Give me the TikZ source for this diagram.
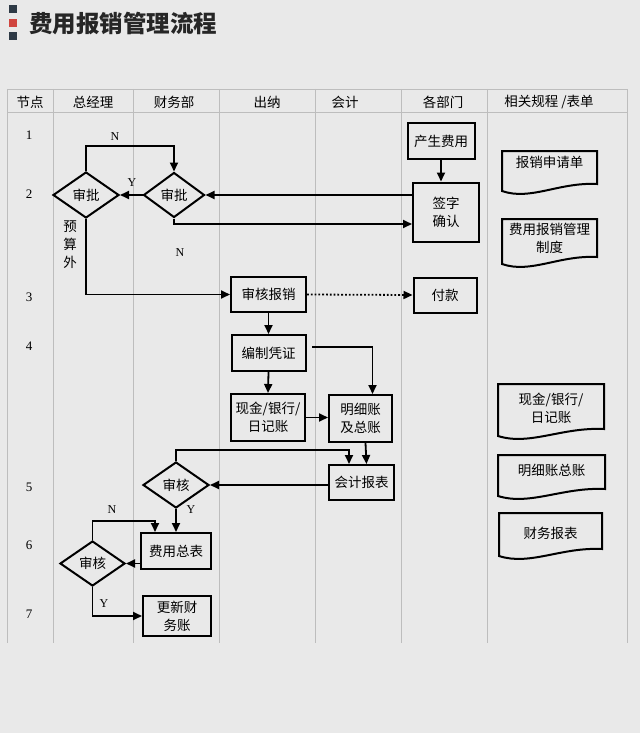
\documentclass[tikz,border=0pt]{standalone}
\usepackage{fontspec}
\setmainfont{Noto Sans CJK SC}
\newfontfamily\lat{Liberation Serif}
\usetikzlibrary{shapes.geometric,arrows.meta}
\definecolor{bg}{HTML}{E9E9E9}
\definecolor{gridc}{HTML}{BDBDBD}
\definecolor{sqdark}{HTML}{2E3A46}
\definecolor{sqred}{HTML}{D0453F}
\tikzset{
  every node/.style={font=\fontsize{13.5}{17}\selectfont, inner sep=0pt},
  procbox/.style={draw=black, line width=2pt, fill=bg, rectangle, align=center, font=\fontsize{13.5}{18}\selectfont},
  decision/.style={draw=black, line width=2pt, fill=bg, diamond, align=center, font=\fontsize{13.5}{18}\selectfont},
  arr/.style={line width=1.8pt, -{Triangle[length=9pt,width=8pt]}},
  dotarr/.style={line width=1.8pt, dotted, -{Triangle[length=9pt,width=8pt]}},
  gridline/.style={draw=gridc, line width=0.9pt},
  hdr/.style={font=\fontsize{13.5}{15}\selectfont},
  yn/.style={font=\lat\fontsize{12}{14}\selectfont},
  rownum/.style={font=\lat\fontsize{13}{15}\selectfont},
  docline/.style={draw=black, line width=2pt, fill=bg},
  doctext/.style={align=center, font=\fontsize{13.5}{18}\selectfont}
}
\newcommand\docpath[4]{%
  \path[docline] (#1,#3) -- (#2,#3) -- (#2,#4-7)
    .. controls ({#2-0.4*(#2-#1)},#4-9) and ({#1+0.3*(#2-#1)},#4+10) .. (#1,#4) -- cycle;}
\begin{document}
\begin{tikzpicture}[x=1pt,y=-1pt]
\path[fill=bg] (0,0) rectangle (640,733);
\useasboundingbox (0,0) rectangle (640,733);

% title
\fill[sqdark] (9,5) rectangle (17,13);
\fill[sqred] (9,19) rectangle (17,27);
\fill[sqdark] (9,32) rectangle (17,40);
\node[anchor=west, font=\fontsize{23.5}{25}\selectfont\bfseries, text=black!85] (title) at (29,24) {费用报销管理流程};

% grid
\foreach \x in {7,53,133,219,315,401,487,627} {\draw[gridline] (\x,89) -- (\x,643);}
\draw[gridline] (7,89) -- (627,89);
\draw[gridline] (7,112) -- (627,112);

% headers
\node[hdr] (h1) at (30,102) {节点};
\node[hdr] (h2) at (93,102) {总经理};
\node[hdr] (h3) at (174,102) {财务部};
\node[hdr] (h4) at (267,102) {出纳};
\node[hdr] (h5) at (345,102) {会计};
\node[hdr] (h6) at (443,102) {各部门};
\node[hdr] (h7) at (549,102) {相关规程 /表单};

% row numbers
\node[rownum] (r1) at (29,135) {1};
\node[rownum] (r2) at (29,194) {2};
\node[rownum] (r3) at (29,297) {3};
\node[rownum] (r4) at (29,346) {4};
\node[rownum] (r5) at (29,487) {5};
\node[rownum] (r6) at (29,545) {6};
\node[rownum] (r7) at (29,614) {7};

% process nodes
\node[procbox, minimum width=67pt, minimum height=36pt] (cs) at (441,141) {产生费用};
\node[procbox, minimum width=66pt, minimum height=59pt] (qz) at (446,212) {签字\\确认};
\node[decision, minimum width=61pt, minimum height=45pt] (sp1) at (174,195) {审批};
\node[decision, minimum width=66pt, minimum height=46pt] (sp2) at (86,195) {审批};
\node[procbox, minimum width=75pt, minimum height=35pt] (shbx) at (268.5,294.5) {审核报销};
\node[procbox, minimum width=63pt, minimum height=35pt] (fk) at (445,295) {付款};
\node[procbox, minimum width=74pt, minimum height=36pt] (bzpz) at (268.5,353) {编制凭证};
\node[procbox, minimum width=74pt, minimum height=47pt] (xj) at (268,417.5) {现金/银行/\\日记账};
\node[procbox, minimum width=63pt, minimum height=47pt] (mx) at (360.5,418.5) {明细账\\及总账};
\node[procbox, minimum width=65pt, minimum height=35pt] (kjbb) at (361.5,482.5) {会计报表};
\node[decision, minimum width=66pt, minimum height=46pt] (sh1) at (176,485) {审核};
\node[procbox, minimum width=70pt, minimum height=36pt] (fyzb) at (176,551) {费用总表};
\node[decision, minimum width=65pt, minimum height=45pt] (sh2) at (92.5,563.5) {审核};
\node[procbox, minimum width=68pt, minimum height=40pt] (gx) at (177,616) {更新财\\务账};

% connectors
\draw[arr] (cs.south) -- (cs.south |- qz.north);
\draw[arr] (qz.west |- sp1.east) -- (sp1.east);
\draw[arr] (sp1.south) |- ([yshift=-12pt]qz.west);
\draw[arr] (sp1.west) -- (sp2.east);
\draw[arr] (sp2.north) -- ++(0,-25) -| (sp1.north);
\draw[arr] (sp2.south) |- (shbx.west);
\draw[dotarr] (shbx.east) -- (fk.west);
\draw[arr] (shbx.south) -- (bzpz.north);
\coordinate (b1) at (312,347);
\draw[arr] (b1) -| ([xshift=12pt]mx.north);
\draw[arr] (bzpz.south) -- (xj.north);
\draw[arr] (xj.east) -- (xj.east -| mx.west);
\draw[arr] ([xshift=5pt]mx.south) -- ([xshift=5pt]kjbb.north);
\draw[arr] (kjbb.west |- sh1.east) -- (sh1.east);
\draw[arr] (sh1.north) -- ++(0,-11) -| ([xshift=-12.5pt]kjbb.north);
\draw[arr] (sh1.south) -- (sh1.south |- fyzb.north);
\draw[arr] (sh2.east -| fyzb.west) -- (sh2.east);
\draw[arr] (sh2.north) -- ++(0,-19) -| ([xshift=-21pt]fyzb.north);
\draw[arr] (sh2.south) |- (gx.west);

% connector labels
\node[yn] (lN1) at (115,137) {N};
\node[yn] (lY1) at (132,183) {Y};
\node[yn] (lN2) at (180,253) {N};
\node[align=center, font=\fontsize{13.5}{18}\selectfont] (ysw) at (70,245) {预\\算\\外};
\node[yn] (lY2) at (191,510) {Y};
\node[yn] (lN3) at (112,510) {N};
\node[yn] (lY3) at (104,604) {Y};

% documents
\docpath{502}{597}{151}{191}
\node[doctext] (d1) at (549.5,162) {报销申请单};
\docpath{502}{597}{219}{264}
\node[doctext] (d2) at (549.5,238) {费用报销管理\\制度};
\docpath{498}{604}{384}{436}
\node[doctext] (d3) at (551,408.5) {现金/银行/\\日记账};
\docpath{498}{605}{455}{496}
\node[doctext] (d4) at (551.5,470) {明细账总账};
\docpath{499}{602}{513}{556}
\node[doctext] (d5) at (550.5,533) {财务报表};
\end{tikzpicture}
\end{document}
